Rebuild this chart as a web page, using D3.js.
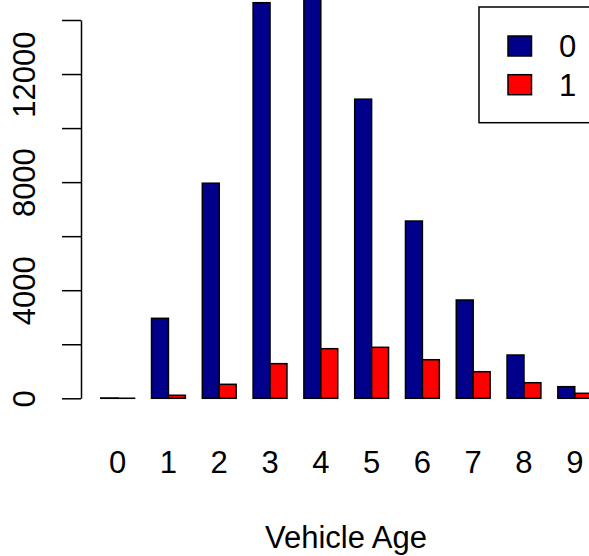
<!DOCTYPE html>
<html>
<head>
<meta charset="utf-8">
<script src="https://cdn.jsdelivr.net/npm/d3@7"></script>
<style>
  body { margin: 0; background: #fff; }
  svg { display: block; font-family: "Liberation Sans", Arial, sans-serif; }
</style>
</head>
<body>
<svg id="chart" width="589" height="556"></svg>
<script>
// vehicle age categories and counts per response class
const AGES = ["0", "1", "2", "3", "4", "5", "6", "7", "8", "9"];
const CLASSES = ["0", "1"];
const COUNT_0 = [12, 2960, 7960, 14640, 15100, 11070, 6560, 3638, 1602, 430];
const COUNT_1 = [2, 112, 518, 1282, 1836, 1887, 1428, 984, 577, 185];
const Y_TICKS = [0, 2000, 4000, 6000, 8000, 10000, 12000, 14000];
const Y_LABELS = [0, 4000, 8000, 12000];
const COLORS = ["#00008B", "#FF0000"];

const W = 589, H = 556;
const FONT = 31;
const UNIT = 16.93;
const X0 = 83.8; // pixel of bar unit 0

const svg = d3.select("#chart");

/////////////// scales ////////////////
const xGrp = d3.scaleBand()
    .domain(AGES)
    .range([X0 + 0.5 * UNIT, X0 + 30.5 * UNIT])
    .paddingInner(1 / 3)
    .paddingOuter(1 / 6);
const xSub = d3.scaleBand()
    .domain(CLASSES)
    .range([0, xGrp.bandwidth()]);
const y = d3.scaleLinear()
    .domain([0, 14000])
    .range([398.3, 20]);

/////////////// bars ////////////////
const rows = AGES.map((a, i) => ({ age: a, vals: [COUNT_0[i], COUNT_1[i]] }));
const grp = svg.append("g").selectAll("g")
    .data(rows)
    .enter()
    .append("g")
    .attr("transform", d => `translate(${xGrp(d.age)}, 0)`);
grp.selectAll("rect")
    .data(d => d.vals.map((v, j) => ({ cls: CLASSES[j], v: v })))
    .enter()
    .append("rect")
    .attr("x", d => xSub(d.cls))
    .attr("y", d => y(d.v))
    .attr("width", xSub.bandwidth())
    .attr("height", d => y(0) - y(d.v))
    .attr("fill", (d, j) => COLORS[j])
    .attr("stroke", "#000")
    .attr("stroke-width", 1.5);

/////////////// y axis ////////////////
const yAxis = svg.append("g")
    .attr("transform", "translate(81, 0)")
    .call(d3.axisLeft(y)
        .tickValues(Y_TICKS)
        .tickSize(19)
        .tickSizeOuter(0)
        .tickFormat(d => Y_LABELS.includes(d) ? d : ""));
yAxis.select(".domain").attr("stroke-width", 1.5);
yAxis.selectAll(".tick line").attr("stroke-width", 1.5);
yAxis.selectAll(".tick text")
    .attr("x", 0)
    .attr("dy", 0)
    .attr("transform", "translate(-46, 0) rotate(-90)")
    .attr("text-anchor", "middle")
    .attr("font-size", FONT)
    .attr("font-family", "Liberation Sans, Arial, sans-serif")
    .attr("fill", "#000");

/////////////// x labels ////////////////
svg.append("g").selectAll("text")
    .data(AGES)
    .enter()
    .append("text")
    .attr("x", d => xGrp(d) + xGrp.bandwidth() / 2)
    .attr("y", 473)
    .attr("text-anchor", "middle")
    .attr("font-size", FONT)
    .text(d => d);

svg.append("text")
    .attr("x", 346)
    .attr("y", 548)
    .attr("text-anchor", "middle")
    .attr("font-size", FONT)
    .text("Vehicle Age");

/////////////// legend ////////////////
const LEG = svg.append("g");
LEG.append("rect")
    .attr("x", 479)
    .attr("y", 7)
    .attr("width", 160)
    .attr("height", 115.7)
    .attr("fill", "none")
    .attr("stroke", "#000")
    .attr("stroke-width", 1.5);
const legItem = LEG.selectAll("g.item")
    .data(CLASSES)
    .enter()
    .append("g")
    .attr("class", "item")
    .attr("transform", (d, i) => `translate(0, ${i * 38.7})`);
legItem.append("rect")
    .attr("x", 508)
    .attr("y", 36)
    .attr("width", 23.5)
    .attr("height", 20)
    .attr("fill", (d, i) => COLORS[i])
    .attr("stroke", "#000")
    .attr("stroke-width", 1.5);
legItem.append("text")
    .attr("x", 559)
    .attr("y", 57)
    .attr("font-size", FONT)
    .text(d => d);
</script>
</body>
</html>
